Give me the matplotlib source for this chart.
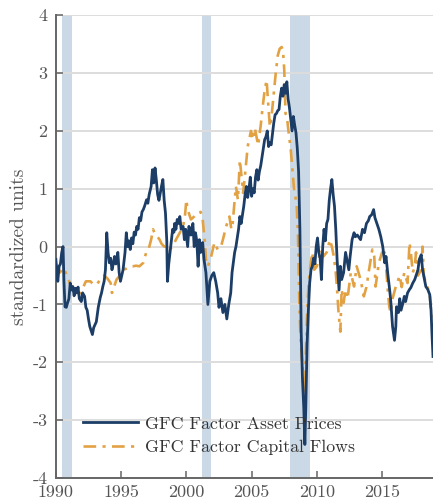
import numpy as np
import matplotlib
matplotlib.use("Agg")
import matplotlib.pyplot as plt

plt.rcParams['font.family'] = ['cmr10', 'DejaVu Serif']
plt.rcParams['axes.unicode_minus'] = False
plt.rcParams['axes.formatter.use_mathtext'] = False

# GFC factor, asset prices (year, standardized units)
asset_t = [
    1990.00, 1990.08, 1990.15, 1990.25, 1990.35, 1990.45, 1990.55, 1990.62, 1990.70, 1990.80,
    1990.90, 1991.00, 1991.10, 1991.20, 1991.30, 1991.40, 1991.50, 1991.60, 1991.70, 1991.80,
    1991.95, 1992.05, 1992.20, 1992.30, 1992.40, 1992.50, 1992.60, 1992.70, 1992.80, 1992.90,
    1993.00, 1993.10, 1993.25, 1993.40, 1993.50, 1993.60, 1993.70, 1993.80, 1993.90, 1994.00,
    1994.10, 1994.20, 1994.30, 1994.40, 1994.50, 1994.60, 1994.75, 1994.85, 1994.95, 1995.05,
    1995.15, 1995.30, 1995.40, 1995.50, 1995.60, 1995.70, 1995.80, 1995.90, 1996.00, 1996.10,
    1996.20, 1996.30, 1996.40, 1996.50, 1996.60, 1996.70, 1996.80, 1996.95, 1997.05, 1997.15,
    1997.30, 1997.40, 1997.50, 1997.60, 1997.70, 1997.80, 1997.90, 1998.00, 1998.10, 1998.20,
    1998.30, 1998.40, 1998.50, 1998.55, 1998.65, 1998.75, 1998.85, 1998.95, 1999.05, 1999.10,
    1999.20, 1999.30, 1999.40, 1999.50, 1999.60, 1999.75, 1999.85, 1999.95, 2000.10, 2000.20,
    2000.35, 2000.50, 2000.60, 2000.70, 2000.80, 2000.90, 2001.00, 2001.10, 2001.25, 2001.35,
    2001.50, 2001.65, 2001.80, 2001.95, 2002.10, 2002.25, 2002.40, 2002.50, 2002.65, 2002.80,
    2002.95, 2003.10, 2003.25, 2003.40, 2003.50, 2003.60, 2003.70, 2003.80, 2003.90, 2004.00,
    2004.10, 2004.20, 2004.30, 2004.40, 2004.50, 2004.60, 2004.70, 2004.80, 2004.90, 2005.00,
    2005.10, 2005.20, 2005.30, 2005.40, 2005.50, 2005.60, 2005.70, 2005.80, 2005.90, 2006.00,
    2006.10, 2006.20, 2006.30, 2006.40, 2006.50, 2006.60, 2006.70, 2006.80, 2006.90, 2007.00,
    2007.10, 2007.20, 2007.30, 2007.40, 2007.50, 2007.60, 2007.70, 2007.80, 2007.90, 2008.00,
    2008.10, 2008.20, 2008.30, 2008.40, 2008.50, 2008.60, 2008.70, 2008.80, 2008.90, 2009.00,
    2009.08, 2009.15, 2009.25, 2009.35, 2009.45, 2009.55, 2009.65, 2009.75, 2009.85, 2009.95,
    2010.05, 2010.15, 2010.25, 2010.35, 2010.45, 2010.55, 2010.65, 2010.75, 2010.85, 2010.95,
    2011.05, 2011.15, 2011.25, 2011.35, 2011.45, 2011.55, 2011.70, 2011.80, 2011.90, 2012.05,
    2012.20, 2012.30, 2012.45, 2012.55, 2012.70, 2012.85, 2012.95, 2013.10, 2013.35, 2013.50,
    2013.65, 2013.80, 2013.95, 2014.05, 2014.20, 2014.35, 2014.45, 2014.60, 2014.75, 2014.90,
    2015.05, 2015.20, 2015.30, 2015.45, 2015.55, 2015.65, 2015.80, 2015.95, 2016.05, 2016.10,
    2016.25, 2016.35, 2016.45, 2016.60, 2016.70, 2016.80, 2016.95, 2017.10, 2017.20, 2017.35,
    2017.50, 2017.60, 2017.75, 2017.85, 2018.00, 2018.10, 2018.25, 2018.35, 2018.50, 2018.65,
    2018.75, 2018.82, 2018.90,
]
asset_v = [
    -0.22, -0.45, -0.60, -0.34, -0.30, -0.10, 0.00, -0.60, -1.04, -1.05,
    -0.97, -0.90, -0.63, -0.75, -0.69, -0.85, -0.72, -0.80, -0.70, -0.90,
    -0.95, -0.80, -0.86, -1.05, -1.10, -1.25, -1.38, -1.45, -1.52, -1.40,
    -1.35, -1.30, -1.05, -0.88, -0.80, -0.69, -0.60, -0.40, 0.24, -0.10,
    -0.28, -0.20, -0.40, -0.30, -0.17, -0.30, -0.10, -0.45, -0.60, -0.50,
    -0.40, -0.10, 0.24, 0.00, 0.10, -0.05, 0.15, 0.05, 0.25, 0.20,
    0.35, 0.30, 0.50, 0.45, 0.60, 0.64, 0.70, 0.81, 0.75, 0.90,
    1.04, 1.33, 1.10, 1.36, 1.15, 0.90, 0.80, 0.93, 1.05, 1.16,
    0.80, 0.58, 0.10, -0.60, -0.30, -0.10, 0.10, 0.30, 0.25, 0.40,
    0.30, 0.47, 0.40, 0.52, 0.30, 0.35, 0.12, 0.30, 0.00, 0.35,
    0.20, 0.40, 0.00, 0.24, 0.10, -0.34, 0.12, -0.10, 0.07, -0.22,
    -0.45, -1.00, -0.60, -0.50, -0.45, -0.60, -0.80, -1.05, -0.90, -1.14,
    -1.00, -1.25, -1.00, -0.80, -0.45, -0.28, -0.10, 0.00, 0.15, 0.30,
    0.52, 0.40, 0.55, 0.70, 0.90, 1.04, 0.85, 1.00, 1.20, 0.87,
    1.00, 0.93, 1.20, 1.33, 1.15, 1.30, 1.40, 1.55, 1.70, 1.85,
    1.90, 2.00, 1.73, 1.80, 1.76, 1.95, 2.14, 2.28, 2.30, 2.35,
    2.37, 2.60, 2.74, 2.60, 2.80, 2.65, 2.85, 2.55, 2.40, 2.20,
    2.00, 2.25, 2.10, 1.97, 1.70, 1.30, 0.30, -1.50, -2.30, -2.80,
    -3.42, -2.80, -1.70, -1.10, -0.63, -0.40, -0.34, -0.20, -0.30, 0.00,
    0.15, -0.10, -0.20, -0.57, 0.00, 0.30, 0.10, 0.40, 0.47, 0.80,
    1.00, 1.16, 0.90, 0.70, 0.30, -0.22, -0.75, -0.34, -0.57, -0.45,
    -0.10, -0.22, -0.40, -0.17, 0.12, 0.24, 0.17, 0.20, 0.12, 0.30,
    0.24, 0.40, 0.45, 0.52, 0.55, 0.64, 0.50, 0.40, 0.30, 0.17,
    0.00, -0.28, -0.17, -0.50, -0.69, -0.90, -1.38, -1.62, -1.38, -1.04,
    -1.14, -0.90, -1.10, -0.97, -0.86, -0.95, -0.80, -0.74, -0.71, -0.63,
    -0.57, -0.50, -0.40, -0.22, -0.14, -0.40, -0.57, -0.69, -0.74, -0.83,
    -1.10, -1.50, -1.90,
]

# GFC factor, capital flows
flows_t = [
    1990.00, 1990.10, 1990.30, 1990.60, 1990.85, 1991.10, 1991.40, 1991.60, 1991.90, 1992.10,
    1992.30, 1992.65, 1992.90, 1993.15, 1993.40, 1993.70, 1993.95, 1994.20, 1994.30, 1994.45,
    1994.65, 1994.90, 1995.15, 1995.40, 1995.70, 1995.90, 1996.15, 1996.40, 1996.70, 1996.95,
    1997.10, 1997.30, 1997.45, 1997.55, 1997.70, 1997.95, 1998.10, 1998.30, 1998.50, 1998.70,
    1998.95, 1999.20, 1999.50, 1999.75, 1999.90, 2000.00, 2000.10, 2000.35, 2000.60, 2000.85,
    2001.10, 2001.25, 2001.40, 2001.50, 2001.65, 2001.90, 2002.15, 2002.40, 2002.65, 2002.80,
    2003.05, 2003.30, 2003.45, 2003.55, 2003.70, 2003.80, 2003.95, 2004.10, 2004.35, 2004.50,
    2004.70, 2004.95, 2005.10, 2005.25, 2005.50, 2005.70, 2005.85, 2006.00, 2006.15, 2006.25,
    2006.40, 2006.55, 2006.70, 2006.85, 2007.00, 2007.15, 2007.30, 2007.40, 2007.50, 2007.60,
    2007.70, 2007.85, 2008.00, 2008.10, 2008.25, 2008.35, 2008.45, 2008.55, 2008.65, 2008.75,
    2008.90, 2009.00, 2009.10, 2009.15, 2009.25, 2009.35, 2009.50, 2009.65, 2009.80, 2010.00,
    2010.30, 2010.50, 2010.75, 2011.00, 2011.15, 2011.30, 2011.45, 2011.55, 2011.65, 2011.80,
    2011.90, 2012.05, 2012.20, 2012.35, 2012.60, 2012.85, 2013.05, 2013.35, 2013.60, 2013.80,
    2014.00, 2014.25, 2014.40, 2014.50, 2014.75, 2015.00, 2015.20, 2015.30, 2015.45, 2015.55,
    2015.65, 2015.80, 2016.05, 2016.35, 2016.50, 2016.70, 2016.95, 2017.10, 2017.20, 2017.35,
    2017.50, 2017.60, 2017.75, 2018.00, 2018.10, 2018.20, 2018.35, 2018.65, 2018.75, 2018.90,
]
flows_v = [
    -0.30, -0.34, -0.45, -0.37, -0.50, -0.65, -0.74, -0.83, -0.80, -0.70,
    -0.60, -0.60, -0.66, -0.65, -0.57, -0.50, -0.55, -0.63, -0.80, -0.70,
    -0.57, -0.50, -0.40, -0.38, -0.34, -0.34, -0.33, -0.34, -0.28, -0.08,
    -0.05, 0.12, 0.30, 0.24, 0.20, 0.12, 0.05, 0.00, 0.02, -0.05,
    0.00, 0.12, 0.24, 0.35, 0.55, 0.81, 0.64, 0.47, 0.52, 0.58,
    0.60, 0.47, 0.12, -0.22, -0.34, -0.17, 0.07, -0.05, 0.00, 0.12,
    0.35, 0.52, 0.30, 0.40, 0.80, 1.04, 0.81, 1.50, 0.93, 1.25,
    1.73, 2.00, 1.85, 2.05, 1.75, 2.10, 2.42, 2.70, 2.88, 2.54,
    2.07, 2.30, 2.65, 3.00, 3.30, 3.42, 3.45, 3.40, 3.06, 2.30,
    2.25, 1.95, 1.68, 1.40, 1.00, 0.87, 0.72, 0.24, -0.90, -1.60,
    -2.07, -2.40, -2.55, -1.90, -1.20, -0.69, -0.34, -0.10, -0.40, -0.34,
    -0.05, -0.17, -0.10, 0.12, 0.00, -0.17, -0.45, -0.74, -1.10, -1.47,
    -0.74, -0.97, -0.74, -0.90, -0.45, -0.69, -0.34, -0.57, -0.86, -0.70,
    -0.40, -0.05, -0.17, -0.69, -0.28, -0.10, -0.10, -0.34, -0.80, -1.04,
    -1.14, -0.90, -0.69, -0.50, -0.70, -0.45, -0.63, 0.07, -0.10, -0.45,
    -0.35, -0.10, -0.50, -0.40, 0.00, -0.50, -0.63, -0.80, -1.14, -1.50,
]

# recession bands
recessions = [(1990.5, 1991.2), (2001.2, 2001.9), (2007.92, 2009.45)]

navy = '#1c3d66'
orange = '#e2a244'
grey = '#555555'

fig = plt.figure(figsize=(4.33, 5.03), dpi=100)
ax = fig.add_axes([0.129, 0.0497, 0.871, 0.920])

for a, b in recessions:
    ax.axvspan(a, b, color='#cbd9e6', lw=0, zorder=0)

for yv in range(-4, 5):
    ax.axhline(yv, color='#dddddd', lw=1.4, zorder=0.5)

ax.plot(asset_t, asset_v, color=navy, lw=2.0, label='GFC Factor Asset Prices', zorder=3)
ax.plot(flows_t, flows_v, color=orange, lw=1.9, linestyle=(0, (4.8, 2.4, 1.2, 2.4)),
        label='GFC Factor Capital Flows', zorder=2)

ax.set_xlim(1990, 2018.9)
ax.set_ylim(-4, 4)
ax.set_xticks([1990, 1995, 2000, 2005, 2010, 2015])
ax.set_yticks(range(-4, 5))
ax.set_ylabel('standardized units', fontsize=14, color=grey, labelpad=3)

for s in ['top', 'right']:
    ax.spines[s].set_visible(False)
for s in ['left', 'bottom']:
    ax.spines[s].set_color('#666666')
    ax.spines[s].set_linewidth(1.4)
ax.tick_params(direction='in', length=5, width=1.1, color='#666666',
               labelcolor=grey, labelsize=13)
ax.tick_params(axis='x', pad=5)
ax.tick_params(axis='y', pad=6)

leg = ax.legend(loc='lower left', bbox_to_anchor=(0.03, 0.015), frameon=False,
                fontsize=12.8, handlelength=3.1, labelspacing=0.45, handletextpad=0.4)
for t in leg.get_texts():
    t.set_color('#333333')

fig.savefig('out.png', dpi=100)
